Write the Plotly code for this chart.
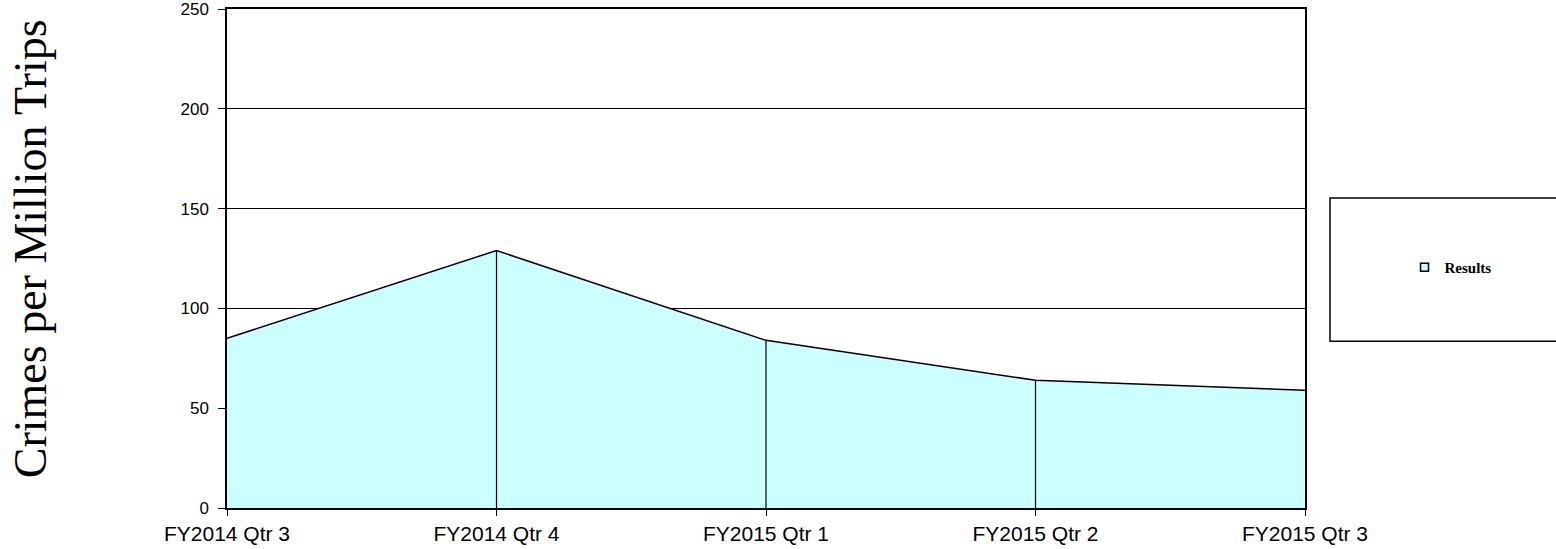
import plotly.graph_objects as go

# Quarterly crime rate data
quarters = ["FY2014 Qtr 3", "FY2014 Qtr 4", "FY2015 Qtr 1", "FY2015 Qtr 2", "FY2015 Qtr 3"]
results = [85, 129, 84, 64, 59]
y_ticks = [0, 50, 100, 150, 200, 250]

fig = go.Figure()

# Filled area for the results series
fig.add_trace(go.Scatter(
    x=quarters, y=results, mode="lines", fill="tozeroy",
    fillcolor="#CCFFFF", line=dict(color="black", width=1.5),
    showlegend=False, hoverinfo="x+y",
))

# Drop lines from each interior point down to the axis
drop_x, drop_y = [], []
for q, v in zip(quarters[1:-1], results[1:-1]):
    drop_x += [q, q, None]
    drop_y += [0, v, None]
fig.add_trace(go.Scatter(
    x=drop_x, y=drop_y, mode="lines",
    line=dict(color="black", width=1.2),
    showlegend=False, hoverinfo="skip",
))

# Legend entry
fig.add_trace(go.Scatter(
    x=[None], y=[None], mode="markers", name="<b>Results</b>",
    marker=dict(symbol="square", size=8, color="#CCFFFF",
                line=dict(color="black", width=1.5)),
))

fig.update_layout(
    width=1556, height=549,
    margin=dict(l=227, r=251, t=9, b=41, autoexpand=False),
    paper_bgcolor="white", plot_bgcolor="white",
    font=dict(family="Liberation Sans, Arial, sans-serif", color="black"),
    xaxis=dict(
        type="category", range=[0, 4], automargin=False,
        showline=True, linecolor="black", linewidth=1.5, mirror=True,
        showgrid=False, ticks="outside", ticklen=6, tickcolor="black",
        tickfont=dict(size=21, family="Liberation Sans, Arial, sans-serif"),
        ticklabeloverflow="allow",
        zeroline=False,
    ),
    yaxis=dict(
        range=[0, 250], tickvals=y_ticks, automargin=False,
        showline=True, linecolor="black", linewidth=1.5, mirror=True,
        showgrid=True, gridcolor="black", gridwidth=1,
        ticks="outside", ticklen=7, tickcolor="black",
        tickfont=dict(size=17, family="Liberation Sans, Arial, sans-serif"),
        ticklabelstandoff=6, ticklabeloverflow="allow",
        zeroline=False,
    ),
    legend=dict(
        x=1.135, y=0.482, xanchor="center", yanchor="middle",
        bgcolor="rgba(0,0,0,0)", borderwidth=0,
        font=dict(family="Liberation Serif, Times New Roman, serif", size=15, color="black"),
        itemwidth=30,
    ),
    shapes=[dict(
        type="rect", xref="paper", yref="paper",
        x0=1.0232, x1=1.25, y0=0.3343, y1=0.621,
        line=dict(color="black", width=1.5), fillcolor="rgba(0,0,0,0)",
    )],
    annotations=[dict(
        text="Crimes per Million Trips", textangle=-90,
        xref="paper", yref="paper", x=-0.1827, y=0.5187,
        xanchor="center", yanchor="middle", showarrow=False,
        font=dict(family="Liberation Serif, Times New Roman, serif", size=46, color="black"),
    )],
)

fig.write_html("out.html")
